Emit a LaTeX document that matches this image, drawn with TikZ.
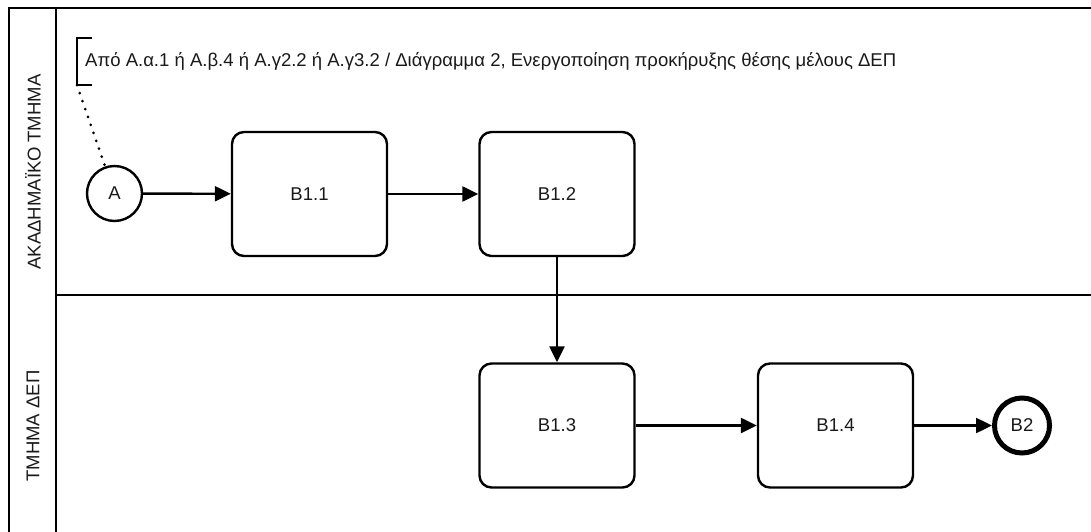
\documentclass[tikz,border=0pt]{standalone}
\usepackage{fontspec}
\setmainfont{Liberation Sans}
\usetikzlibrary{arrows.meta}
\definecolor{txt}{HTML}{1A1A1A}
\newlength\annotwd
\newcommand\annottext{Από Α.α.1 ή Α.β.4 ή Α.γ2.2 ή Α.γ3.2 / Διάγραμμα 2, Ενεργοποίηση προκήρυξης θέσης μέλους ΔΕΠ}
\newcommand\lblfont{\fontsize{\fsz}{\fsz}\selectfont}
% font size chosen so that the annotation line spans 811pt
\AtBeginDocument{%
  \settowidth\annotwd{\fontsize{10}{12}\selectfont\annottext}%
  \pgfmathsetmacro\fsz{10*811/\annotwd}}
\begin{document}
\begin{tikzpicture}[x=1pt,y=-1pt,
  lane/.style={line width=2.4pt},
  task/.style={draw, line width=2.4pt, rounded corners=12pt, minimum width=155pt,
    minimum height=124pt, inner sep=0pt, text=txt, font=\lblfont},
  startev/.style={draw, circle, line width=2.4pt, minimum size=55pt, inner sep=0pt,
    text=txt, font=\lblfont},
  endev/.style={draw, circle, line width=5pt, minimum size=55pt, inner sep=0pt,
    text=txt, font=\lblfont},
  lanelbl/.style={rotate=90, text=txt, font=\lblfont, inner sep=0pt},
  annot/.style={anchor=west, inner xsep=8pt, inner ysep=0pt, minimum height=47pt,
    text=txt, font=\lblfont},
  flow/.style={line width=2.4pt, -{Triangle[length=16pt,width=15pt]}},
  assoc/.style={line width=3pt, line cap=round, dash pattern=on 0pt off 8.4pt}]
\useasboundingbox (0,0) rectangle (1091,532);
\fill[white] (0,0) rectangle (1091,532);

% pool frame and lanes
\draw[lane] (1091,8) -- (9,8) -- (9,532);
\draw[lane] (56,8) -- (56,532);
\draw[lane] (56,295) -- (1091,295);
\node[lanelbl] (lane1) at (33,172) {ΑΚΑΔΗΜΑΪΚΟ ΤΜΗΜΑ};
\node[lanelbl] (lane2) at (33,426) {ΤΜΗΜΑ ΔΕΠ};

% events and tasks
\node[startev] (A) at (114.5,193.5) {A};
\node[task] (b11) at (309.5,194) {B1.1};
\node[task] (b12) at (557,194) {B1.2};
\node[task] (b13) at (557,425.5) {B1.3};
\node[task] (b14) at (835.5,425.5) {B1.4};
\node[endev] (B2) at (1022,425.5) {B2};

% text annotation with its bracket
\node[annot] (note) at (77,61.5) {\annottext};
\draw[lane] ([xshift=15pt]note.north west) -- (note.north west)
  -- (note.south west) -- ([xshift=15pt]note.south west);
\draw[assoc] (note.south west) -- (A);

% sequence flows
\draw[flow] (A) -- (b11);
\draw[flow] (b11) -- (b12);
\draw[flow] (b12) -- (b13);
\draw[flow] (b13) -- (b14);
\draw[flow] (b14) -- (B2);
\end{tikzpicture}
\end{document}
